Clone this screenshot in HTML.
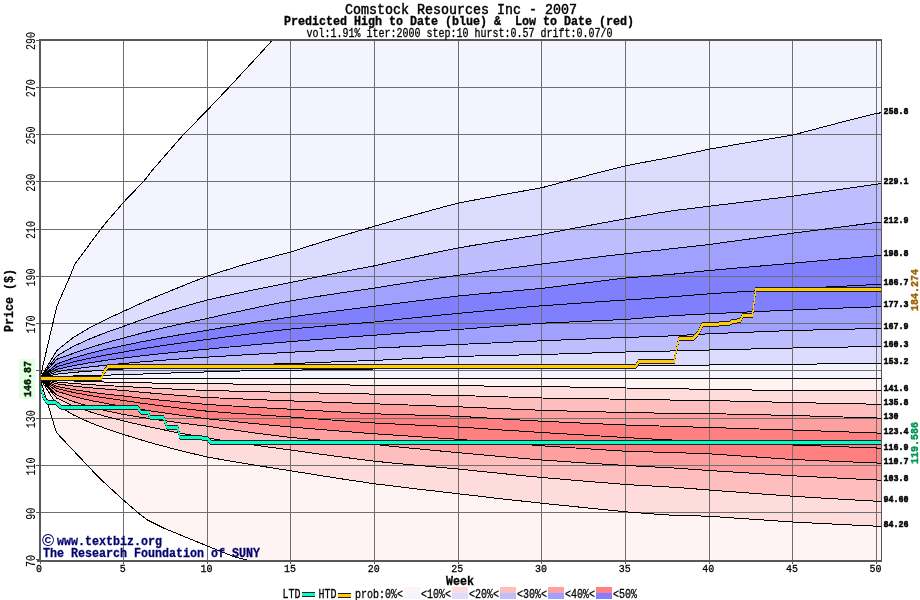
<!DOCTYPE html><html><head><meta charset="utf-8"><title>Comstock Resources Inc - 2007</title>
<style>html,body{margin:0;padding:0;background:#fff}svg{display:block}text{font-family:"Liberation Mono",monospace;white-space:pre}</style></head><body>
<svg width="920" height="600" viewBox="0 0 920 600">
<rect width="920" height="600" fill="#fff"/>
<defs><clipPath id="pc"><rect x="40" y="40" width="842" height="521"/></clipPath></defs>
<g clip-path="url(#pc)" shape-rendering="crispEdges">
<polygon points="40.0,378.3 56.7,306.7 70.0,276.2 75.0,263.8 100.8,229.2 105.0,223.8 123.8,202.0 143.8,181.2 152.5,170.0 183.8,134.2 207.5,110.0 228.8,87.5 260.0,53.8 272.5,40.0 285.0,27.0 883.5,27.0 883.5,570.0 38.0,570.0" fill="#f4f4ff"/>
<polygon points="40.0,378.3 56.7,350.7 73.5,337.3 90.2,327.5 106.9,318.9 123.7,311.3 140.4,303.6 157.1,296.3 173.8,289.5 190.6,282.7 207.3,276.2 224.0,270.8 240.8,265.5 257.5,260.8 274.2,256.3 291.0,252.0 307.7,246.5 324.4,241.3 341.1,236.1 357.9,231.1 374.6,226.2 391.3,221.4 408.1,216.7 424.8,212.1 441.5,207.5 458.2,203.1 475.0,199.9 491.7,196.8 508.4,193.7 525.2,190.7 541.9,187.7 558.6,183.2 575.4,178.7 592.1,174.3 608.8,170.0 625.6,165.8 642.3,162.6 659.0,159.5 675.7,156.3 692.5,152.7 709.2,149.2 725.9,146.3 742.7,143.4 759.4,140.6 776.1,137.8 792.9,135.0 809.6,130.6 826.3,126.2 843.0,121.8 859.8,117.6 876.5,113.3 881.5,112.8 883.5,112.8 883.5,570.0 38.0,570.0" fill="#dcdcff"/>
<polygon points="40.0,378.3 56.7,356.0 73.5,346.3 90.2,338.7 106.9,332.1 123.7,326.3 140.4,320.2 157.1,314.7 173.8,309.5 190.6,304.6 207.3,300.0 224.0,296.2 240.8,292.6 257.5,289.1 274.2,285.7 291.0,282.5 307.7,278.9 324.4,275.5 341.1,272.2 357.9,268.9 374.6,265.8 391.3,262.0 408.1,258.4 424.8,254.8 441.5,251.3 458.2,247.9 475.0,245.1 491.7,242.4 508.4,239.7 525.2,237.0 541.9,234.4 558.6,231.2 575.4,228.0 592.1,224.9 608.8,221.8 625.6,218.8 642.3,215.8 659.0,212.9 675.7,210.3 692.5,208.3 709.2,206.2 725.9,204.2 742.7,202.2 759.4,200.2 776.1,198.2 792.9,196.2 809.6,193.8 826.3,191.4 843.0,189.0 859.8,186.6 876.5,184.2 881.5,183.7 883.5,183.7 883.5,570.0 38.0,570.0" fill="#bebeff"/>
<polygon points="40.0,378.3 56.7,359.3 73.5,353.3 90.2,347.5 106.9,342.5 123.7,338.0 140.4,333.5 157.1,329.4 173.8,325.5 190.6,321.9 207.3,318.5 224.0,314.6 240.8,311.0 257.5,307.4 274.2,304.0 291.0,300.8 307.7,298.0 324.4,295.4 341.1,292.9 357.9,290.4 374.6,288.0 391.3,285.3 408.1,282.7 424.8,280.2 441.5,277.7 458.2,275.3 475.0,273.0 491.7,270.7 508.4,268.4 525.2,266.2 541.9,264.0 558.6,261.9 575.4,259.8 592.1,257.8 608.8,255.7 625.6,253.8 642.3,251.9 659.0,250.2 675.7,248.3 692.5,246.4 709.2,244.5 725.9,242.2 742.7,239.9 759.4,237.7 776.1,235.4 792.9,233.2 809.6,231.1 826.3,228.9 843.0,226.7 859.8,224.6 876.5,222.5 881.5,222.1 883.5,222.1 883.5,570.0 38.0,570.0" fill="#a0a0ff"/>
<polygon points="40.0,378.3 56.7,364.0 73.5,357.9 90.2,353.2 106.9,349.1 123.7,345.5 140.4,342.0 157.1,338.8 173.8,335.8 190.6,333.0 207.3,330.3 224.0,327.4 240.8,324.7 257.5,322.0 274.2,319.5 291.0,317.0 307.7,314.7 324.4,312.5 341.1,310.4 357.9,308.3 374.6,306.2 391.3,304.1 408.1,302.0 424.8,300.0 441.5,298.0 458.2,296.0 475.0,294.4 491.7,292.9 508.4,291.4 525.2,289.9 541.9,288.4 558.6,286.3 575.4,284.1 592.1,282.1 608.8,280.0 625.6,278.0 642.3,276.7 659.0,275.4 675.7,273.9 692.5,272.2 709.2,270.5 725.9,269.0 742.7,267.5 759.4,266.1 776.1,264.7 792.9,263.2 809.6,261.7 826.3,260.2 843.0,258.7 859.8,257.2 876.5,255.8 881.5,255.4 883.5,255.4 883.5,570.0 38.0,570.0" fill="#8080ff"/>
<polygon points="40.0,378.3 56.7,366.8 73.5,361.9 90.2,358.1 106.9,354.9 123.7,352.0 140.4,349.1 157.1,346.5 173.8,344.0 190.6,341.7 207.3,339.5 224.0,337.2 240.8,335.0 257.5,333.0 274.2,330.9 291.0,329.0 307.7,327.5 324.4,326.1 341.1,324.7 357.9,323.3 374.6,322.0 391.3,320.2 408.1,318.4 424.8,316.7 441.5,315.0 458.2,313.4 475.0,311.8 491.7,310.3 508.4,308.7 525.2,307.2 541.9,305.8 558.6,304.6 575.4,303.4 592.1,302.2 608.8,301.1 625.6,300.0 642.3,298.9 659.0,297.7 675.7,296.5 692.5,295.1 709.2,293.8 725.9,292.7 742.7,291.7 759.4,290.7 776.1,289.7 792.9,288.8 809.6,287.9 826.3,287.0 843.0,286.2 859.8,285.3 876.5,284.5 881.5,284.1 883.5,284.1 883.5,570.0 38.0,570.0" fill="#8080ff"/>
<polygon points="40.0,378.3 56.7,369.4 73.5,365.6 90.2,362.7 106.9,360.2 123.7,358.0 140.4,356.0 157.1,354.1 173.8,352.4 190.6,350.7 207.3,349.2 224.0,347.5 240.8,346.0 257.5,344.4 274.2,343.0 291.0,341.6 307.7,340.2 324.4,338.9 341.1,337.6 357.9,336.4 374.6,335.2 391.3,334.0 408.1,332.8 424.8,331.7 441.5,330.6 458.2,329.5 475.0,328.2 491.7,326.9 508.4,325.7 525.2,324.5 541.9,323.2 558.6,322.5 575.4,321.7 592.1,321.0 608.8,320.2 625.6,319.5 642.3,318.1 659.0,316.7 675.7,315.5 692.5,314.6 709.2,313.8 725.9,313.0 742.7,312.2 759.4,311.5 776.1,310.7 792.9,310.0 809.6,309.3 826.3,308.7 843.0,308.0 859.8,307.4 876.5,306.8 881.5,306.4 883.5,306.4 883.5,570.0 38.0,570.0" fill="#a0a0ff"/>
<polygon points="40.0,378.3 56.7,371.8 73.5,369.0 90.2,366.9 106.9,365.1 123.7,363.5 140.4,362.0 157.1,360.7 173.8,359.4 190.6,358.2 207.3,357.1 224.0,356.1 240.8,355.1 257.5,354.1 274.2,353.2 291.0,352.2 307.7,351.4 324.4,350.5 341.1,349.7 357.9,348.9 374.6,348.1 391.3,347.4 408.1,346.6 424.8,345.9 441.5,345.2 458.2,344.5 475.0,343.7 491.7,343.0 508.4,342.2 525.2,341.5 541.9,340.8 558.6,340.1 575.4,339.4 592.1,338.8 608.8,338.1 625.6,337.5 642.3,336.9 659.0,336.4 675.7,335.7 692.5,334.7 709.2,333.8 725.9,333.1 742.7,332.4 759.4,331.8 776.1,331.1 792.9,330.5 809.6,330.1 826.3,329.7 843.0,329.3 859.8,328.9 876.5,328.5 881.5,328.4 883.5,328.4 883.5,570.0 38.0,570.0" fill="#bebeff"/>
<polygon points="40.0,378.3 56.7,374.2 73.5,372.4 90.2,371.1 106.9,370.0 123.7,369.0 140.4,368.3 157.1,367.7 173.8,367.1 190.6,366.5 207.3,366.0 224.0,365.5 240.8,365.0 257.5,364.5 274.2,364.0 291.0,363.6 307.7,362.9 324.4,362.3 341.1,361.6 357.9,361.0 374.6,360.4 391.3,359.6 408.1,358.7 424.8,357.9 441.5,357.2 458.2,356.4 475.0,356.0 491.7,355.6 508.4,355.2 525.2,354.9 541.9,354.5 558.6,354.0 575.4,353.5 592.1,353.0 608.8,352.5 625.6,352.0 642.3,351.6 659.0,351.2 675.7,350.9 692.5,350.4 709.2,350.0 725.9,349.6 742.7,349.2 759.4,348.8 776.1,348.4 792.9,348.0 809.6,347.7 826.3,347.4 843.0,347.1 859.8,346.8 876.5,346.5 881.5,346.5 883.5,346.5 883.5,570.0 38.0,570.0" fill="#dcdcff"/>
<polygon points="40.0,378.3 56.7,376.7 73.5,376.0 90.2,375.5 106.9,375.1 123.7,374.7 140.4,374.1 157.1,373.5 173.8,372.9 190.6,372.4 207.3,371.9 224.0,371.4 240.8,371.0 257.5,370.7 274.2,370.4 291.0,370.2 307.7,369.9 324.4,369.7 341.1,369.5 357.9,369.2 374.6,369.0 391.3,368.7 408.1,368.5 424.8,368.3 441.5,368.0 458.2,367.8 475.0,367.6 491.7,367.3 508.4,367.1 525.2,366.9 541.9,366.6 558.6,366.4 575.4,366.2 592.1,366.0 608.8,365.8 625.6,365.5 642.3,365.3 659.0,365.1 675.7,365.0 692.5,365.0 709.2,365.0 725.9,364.8 742.7,364.7 759.4,364.5 776.1,364.4 792.9,364.2 809.6,364.1 826.3,363.9 843.0,363.7 859.8,363.6 876.5,363.4 881.5,363.4 883.5,363.4 883.5,570.0 38.0,570.0" fill="#f4f4ff"/>
<polygon points="40.0,378.3 881.5,378.3 883.5,378.3 883.5,570.0 38.0,570.0" fill="#fff4f4"/>
<polygon points="40.0,378.3 56.7,380.2 73.5,381.0 90.2,381.6 106.9,382.1 123.7,382.5 140.4,382.8 157.1,383.1 173.8,383.3 190.6,383.5 207.3,383.8 224.0,383.9 240.8,384.1 257.5,384.2 274.2,384.4 291.0,384.5 307.7,384.7 324.4,384.8 341.1,384.9 357.9,385.1 374.6,385.2 391.3,385.3 408.1,385.4 424.8,385.5 441.5,385.6 458.2,385.8 475.0,385.9 491.7,386.1 508.4,386.2 525.2,386.4 541.9,386.5 558.6,386.8 575.4,387.1 592.1,387.4 608.8,387.7 625.6,388.0 642.3,388.2 659.0,388.4 675.7,388.6 692.5,389.1 709.2,389.5 725.9,389.7 742.7,389.9 759.4,390.1 776.1,390.3 792.9,390.5 809.6,390.5 826.3,390.5 843.0,390.6 859.8,390.6 876.5,390.6 881.5,390.8 883.5,390.8 883.5,570.0 38.0,570.0" fill="#ffdcdc"/>
<polygon points="40.0,378.3 56.7,382.0 73.5,383.5 90.2,384.7 106.9,385.6 123.7,386.5 140.4,387.4 157.1,388.3 173.8,389.1 190.6,389.8 207.3,390.5 224.0,390.9 240.8,391.3 257.5,391.7 274.2,392.1 291.0,392.4 307.7,392.8 324.4,393.1 341.1,393.4 357.9,393.8 374.6,394.1 391.3,394.4 408.1,394.7 424.8,394.9 441.5,395.2 458.2,395.5 475.0,396.0 491.7,396.5 508.4,397.0 525.2,397.5 541.9,398.0 558.6,398.3 575.4,398.5 592.1,398.8 608.8,399.0 625.6,399.2 642.3,399.5 659.0,399.8 675.7,400.1 692.5,400.3 709.2,400.5 725.9,400.9 742.7,401.3 759.4,401.7 776.1,402.1 792.9,402.5 809.6,402.9 826.3,403.2 843.0,403.6 859.8,403.9 876.5,404.2 881.5,404.5 883.5,404.5 883.5,570.0 38.0,570.0" fill="#ffbebe"/>
<polygon points="40.0,378.3 56.7,383.8 73.5,386.1 90.2,387.8 106.9,389.2 123.7,390.5 140.4,392.1 157.1,393.6 173.8,395.0 190.6,396.3 207.3,397.5 224.0,398.2 240.8,398.9 257.5,399.6 274.2,400.3 291.0,400.9 307.7,401.5 324.4,402.1 341.1,402.7 357.9,403.2 374.6,403.8 391.3,404.4 408.1,405.0 424.8,405.6 441.5,406.2 458.2,406.8 475.0,407.5 491.7,408.2 508.4,408.9 525.2,409.6 541.9,410.3 558.6,410.8 575.4,411.2 592.1,411.6 608.8,412.1 625.6,412.5 642.3,412.8 659.0,413.1 675.7,413.3 692.5,413.5 709.2,413.6 725.9,414.0 742.7,414.4 759.4,414.8 776.1,415.1 792.9,415.5 809.6,416.0 826.3,416.5 843.0,417.0 859.8,417.5 876.5,418.0 881.5,418.2 883.5,418.2 883.5,570.0 38.0,570.0" fill="#ffa0a0"/>
<polygon points="40.0,378.3 56.7,386.3 73.5,389.6 90.2,392.1 106.9,394.2 123.7,396.0 140.4,398.0 157.1,399.8 173.8,401.4 190.6,403.0 207.3,404.5 224.0,405.5 240.8,406.5 257.5,407.5 274.2,408.4 291.0,409.2 307.7,410.2 324.4,411.1 341.1,412.0 357.9,412.9 374.6,413.8 391.3,414.3 408.1,414.8 424.8,415.3 441.5,415.8 458.2,416.2 475.0,417.3 491.7,418.3 508.4,419.3 525.2,420.3 541.9,421.2 558.6,422.0 575.4,422.8 592.1,423.5 608.8,424.3 625.6,425.0 642.3,425.5 659.0,426.0 675.7,426.5 692.5,427.0 709.2,427.5 725.9,428.0 742.7,428.5 759.4,429.0 776.1,429.5 792.9,430.0 809.6,430.6 826.3,431.2 843.0,431.8 859.8,432.4 876.5,433.0 881.5,433.7 883.5,433.7 883.5,570.0 38.0,570.0" fill="#ff8080"/>
<polygon points="40.0,378.3 56.7,388.4 73.5,392.5 90.2,395.6 106.9,398.2 123.7,400.5 140.4,403.0 157.1,405.3 173.8,407.4 190.6,409.4 207.3,411.2 224.0,412.5 240.8,413.7 257.5,414.8 274.2,415.9 291.0,417.0 307.7,418.3 324.4,419.5 341.1,420.7 357.9,421.9 374.6,423.0 391.3,423.8 408.1,424.7 424.8,425.5 441.5,426.2 458.2,427.0 475.0,428.1 491.7,429.3 508.4,430.4 525.2,431.4 541.9,432.5 558.6,433.5 575.4,434.5 592.1,435.5 608.8,436.5 625.6,437.5 642.3,438.5 659.0,439.4 675.7,440.2 692.5,440.9 709.2,441.5 725.9,442.2 742.7,442.9 759.4,443.6 776.1,444.3 792.9,445.0 809.6,445.6 826.3,446.2 843.0,446.8 859.8,447.4 876.5,448.0 881.5,449.0 883.5,449.0 883.5,570.0 38.0,570.0" fill="#ff8080"/>
<polygon points="40.0,378.3 56.7,391.2 73.5,396.4 90.2,400.4 106.9,403.6 123.7,406.5 140.4,409.3 157.1,411.9 173.8,414.3 190.6,416.6 207.3,418.8 224.0,420.5 240.8,422.3 257.5,423.9 274.2,425.5 291.0,427.0 307.7,428.4 324.4,429.8 341.1,431.2 357.9,432.5 374.6,433.8 391.3,434.9 408.1,436.0 424.8,437.2 441.5,438.2 458.2,439.3 475.0,440.6 491.7,442.0 508.4,443.2 525.2,444.5 541.9,445.8 558.6,446.9 575.4,448.0 592.1,449.1 608.8,450.2 625.6,451.2 642.3,451.7 659.0,452.2 675.7,452.7 692.5,453.2 709.2,453.8 725.9,454.9 742.7,456.1 759.4,457.2 776.1,458.4 792.9,459.5 809.6,460.2 826.3,460.9 843.0,461.6 859.8,462.3 876.5,463.0 881.5,463.7 883.5,463.7 883.5,570.0 38.0,570.0" fill="#ffa0a0"/>
<polygon points="40.0,378.3 56.7,395.0 73.5,401.7 90.2,406.7 106.9,410.9 123.7,414.5 140.4,417.2 157.1,419.7 173.8,422.0 190.6,424.2 207.3,426.2 224.0,428.7 240.8,431.0 257.5,433.3 274.2,435.4 291.0,437.5 307.7,439.0 324.4,440.4 341.1,441.8 357.9,443.2 374.6,444.5 391.3,446.2 408.1,447.9 424.8,449.5 441.5,451.1 458.2,452.7 475.0,454.2 491.7,455.7 508.4,457.2 525.2,458.6 541.9,460.0 558.6,461.1 575.4,462.3 592.1,463.4 608.8,464.4 625.6,465.5 642.3,466.3 659.0,467.2 675.7,468.1 692.5,469.3 709.2,470.5 725.9,471.6 742.7,472.6 759.4,473.7 776.1,474.7 792.9,475.8 809.6,476.6 826.3,477.5 843.0,478.3 859.8,479.2 876.5,480.0 881.5,480.3 883.5,480.3 883.5,570.0 38.0,570.0" fill="#ffbebe"/>
<polygon points="40.0,378.3 56.7,398.1 73.5,406.0 90.2,411.9 106.9,416.8 123.7,421.0 140.4,424.9 157.1,428.5 173.8,431.9 190.6,435.0 207.3,438.0 224.0,440.6 240.8,443.1 257.5,445.5 274.2,447.8 291.0,450.0 307.7,452.4 324.4,454.7 341.1,456.9 357.9,459.1 374.6,461.2 391.3,462.9 408.1,464.5 424.8,466.0 441.5,467.5 458.2,469.0 475.0,470.8 491.7,472.5 508.4,474.2 525.2,475.9 541.9,477.5 558.6,478.9 575.4,480.4 592.1,481.8 608.8,483.1 625.6,484.5 642.3,485.5 659.0,486.4 675.7,487.4 692.5,488.7 709.2,490.0 725.9,491.3 742.7,492.5 759.4,493.8 776.1,495.0 792.9,496.2 809.6,497.3 826.3,498.3 843.0,499.3 859.8,500.3 876.5,501.2 881.5,501.8 883.5,501.8 883.5,570.0 38.0,570.0" fill="#ffdcdc"/>
<polygon points="40.0,378.3 56.7,404.7 73.5,415.0 90.2,422.7 106.9,429.0 123.7,434.5 140.4,439.7 157.1,444.5 173.8,448.9 190.6,453.1 207.3,457.0 224.0,460.0 240.8,462.8 257.5,465.6 274.2,468.2 291.0,470.8 307.7,473.5 324.4,476.2 341.1,478.8 357.9,481.3 374.6,483.8 391.3,485.8 408.1,487.9 424.8,489.9 441.5,491.8 458.2,493.8 475.0,495.7 491.7,497.7 508.4,499.6 525.2,501.4 541.9,503.2 558.6,505.0 575.4,506.7 592.1,508.4 608.8,510.1 625.6,511.8 642.3,513.1 659.0,514.4 675.7,515.4 692.5,515.8 709.2,516.2 725.9,517.4 742.7,518.6 759.4,519.7 776.1,520.9 792.9,522.0 809.6,522.9 826.3,523.7 843.0,524.6 859.8,525.4 876.5,526.2 881.5,526.6 883.5,526.6 883.5,570.0 38.0,570.0" fill="#fff4f4"/>
<polygon points="40.0,378.3 56.4,432.5 98.8,477.5 123.8,500.5 139.0,513.5 147.5,520.0 163.5,528.0 208.5,546.5 233.5,556.5 248.5,560.5 270.0,566.0 883.5,566.0 883.5,570.0 38.0,570.0" fill="#ffffff"/>
</g>
<g stroke="#6e6e6e" stroke-width="1" shape-rendering="crispEdges"><line x1="123.5" y1="40" x2="123.5" y2="560"/><line x1="207.5" y1="40" x2="207.5" y2="560"/><line x1="290.5" y1="40" x2="290.5" y2="560"/><line x1="374.5" y1="40" x2="374.5" y2="560"/><line x1="458.5" y1="40" x2="458.5" y2="560"/><line x1="541.5" y1="40" x2="541.5" y2="560"/><line x1="625.5" y1="40" x2="625.5" y2="560"/><line x1="709.5" y1="40" x2="709.5" y2="560"/><line x1="792.5" y1="40" x2="792.5" y2="560"/><line x1="876.5" y1="40" x2="876.5" y2="560"/><line x1="40" y1="512.5" x2="882" y2="512.5"/><line x1="40" y1="465.5" x2="882" y2="465.5"/><line x1="40" y1="418.5" x2="882" y2="418.5"/><line x1="40" y1="370.5" x2="882" y2="370.5"/><line x1="40" y1="323.5" x2="882" y2="323.5"/><line x1="40" y1="276.5" x2="882" y2="276.5"/><line x1="40" y1="229.5" x2="882" y2="229.5"/><line x1="40" y1="181.5" x2="882" y2="181.5"/><line x1="40" y1="134.5" x2="882" y2="134.5"/><line x1="40" y1="87.5" x2="882" y2="87.5"/></g>
<g clip-path="url(#pc)" fill="none" stroke="#000" stroke-width="1" shape-rendering="crispEdges">
<polyline points="40.0,378.3 56.7,306.7 70.0,276.2 75.0,263.8 100.8,229.2 105.0,223.8 123.8,202.0 143.8,181.2 152.5,170.0 183.8,134.2 207.5,110.0 228.8,87.5 260.0,53.8 272.5,40.0 285.0,27.0"/>
<polyline points="40.0,378.3 56.7,350.7 73.5,337.3 90.2,327.5 106.9,318.9 123.7,311.3 140.4,303.6 157.1,296.3 173.8,289.5 190.6,282.7 207.3,276.2 224.0,270.8 240.8,265.5 257.5,260.8 274.2,256.3 291.0,252.0 307.7,246.5 324.4,241.3 341.1,236.1 357.9,231.1 374.6,226.2 391.3,221.4 408.1,216.7 424.8,212.1 441.5,207.5 458.2,203.1 475.0,199.9 491.7,196.8 508.4,193.7 525.2,190.7 541.9,187.7 558.6,183.2 575.4,178.7 592.1,174.3 608.8,170.0 625.6,165.8 642.3,162.6 659.0,159.5 675.7,156.3 692.5,152.7 709.2,149.2 725.9,146.3 742.7,143.4 759.4,140.6 776.1,137.8 792.9,135.0 809.6,130.6 826.3,126.2 843.0,121.8 859.8,117.6 876.5,113.3 881.5,112.8"/>
<polyline points="40.0,378.3 56.7,356.0 73.5,346.3 90.2,338.7 106.9,332.1 123.7,326.3 140.4,320.2 157.1,314.7 173.8,309.5 190.6,304.6 207.3,300.0 224.0,296.2 240.8,292.6 257.5,289.1 274.2,285.7 291.0,282.5 307.7,278.9 324.4,275.5 341.1,272.2 357.9,268.9 374.6,265.8 391.3,262.0 408.1,258.4 424.8,254.8 441.5,251.3 458.2,247.9 475.0,245.1 491.7,242.4 508.4,239.7 525.2,237.0 541.9,234.4 558.6,231.2 575.4,228.0 592.1,224.9 608.8,221.8 625.6,218.8 642.3,215.8 659.0,212.9 675.7,210.3 692.5,208.3 709.2,206.2 725.9,204.2 742.7,202.2 759.4,200.2 776.1,198.2 792.9,196.2 809.6,193.8 826.3,191.4 843.0,189.0 859.8,186.6 876.5,184.2 881.5,183.7"/>
<polyline points="40.0,378.3 56.7,359.3 73.5,353.3 90.2,347.5 106.9,342.5 123.7,338.0 140.4,333.5 157.1,329.4 173.8,325.5 190.6,321.9 207.3,318.5 224.0,314.6 240.8,311.0 257.5,307.4 274.2,304.0 291.0,300.8 307.7,298.0 324.4,295.4 341.1,292.9 357.9,290.4 374.6,288.0 391.3,285.3 408.1,282.7 424.8,280.2 441.5,277.7 458.2,275.3 475.0,273.0 491.7,270.7 508.4,268.4 525.2,266.2 541.9,264.0 558.6,261.9 575.4,259.8 592.1,257.8 608.8,255.7 625.6,253.8 642.3,251.9 659.0,250.2 675.7,248.3 692.5,246.4 709.2,244.5 725.9,242.2 742.7,239.9 759.4,237.7 776.1,235.4 792.9,233.2 809.6,231.1 826.3,228.9 843.0,226.7 859.8,224.6 876.5,222.5 881.5,222.1"/>
<polyline points="40.0,378.3 56.7,364.0 73.5,357.9 90.2,353.2 106.9,349.1 123.7,345.5 140.4,342.0 157.1,338.8 173.8,335.8 190.6,333.0 207.3,330.3 224.0,327.4 240.8,324.7 257.5,322.0 274.2,319.5 291.0,317.0 307.7,314.7 324.4,312.5 341.1,310.4 357.9,308.3 374.6,306.2 391.3,304.1 408.1,302.0 424.8,300.0 441.5,298.0 458.2,296.0 475.0,294.4 491.7,292.9 508.4,291.4 525.2,289.9 541.9,288.4 558.6,286.3 575.4,284.1 592.1,282.1 608.8,280.0 625.6,278.0 642.3,276.7 659.0,275.4 675.7,273.9 692.5,272.2 709.2,270.5 725.9,269.0 742.7,267.5 759.4,266.1 776.1,264.7 792.9,263.2 809.6,261.7 826.3,260.2 843.0,258.7 859.8,257.2 876.5,255.8 881.5,255.4"/>
<polyline points="40.0,378.3 56.7,366.8 73.5,361.9 90.2,358.1 106.9,354.9 123.7,352.0 140.4,349.1 157.1,346.5 173.8,344.0 190.6,341.7 207.3,339.5 224.0,337.2 240.8,335.0 257.5,333.0 274.2,330.9 291.0,329.0 307.7,327.5 324.4,326.1 341.1,324.7 357.9,323.3 374.6,322.0 391.3,320.2 408.1,318.4 424.8,316.7 441.5,315.0 458.2,313.4 475.0,311.8 491.7,310.3 508.4,308.7 525.2,307.2 541.9,305.8 558.6,304.6 575.4,303.4 592.1,302.2 608.8,301.1 625.6,300.0 642.3,298.9 659.0,297.7 675.7,296.5 692.5,295.1 709.2,293.8 725.9,292.7 742.7,291.7 759.4,290.7 776.1,289.7 792.9,288.8 809.6,287.9 826.3,287.0 843.0,286.2 859.8,285.3 876.5,284.5 881.5,284.1"/>
<polyline points="40.0,378.3 56.7,369.4 73.5,365.6 90.2,362.7 106.9,360.2 123.7,358.0 140.4,356.0 157.1,354.1 173.8,352.4 190.6,350.7 207.3,349.2 224.0,347.5 240.8,346.0 257.5,344.4 274.2,343.0 291.0,341.6 307.7,340.2 324.4,338.9 341.1,337.6 357.9,336.4 374.6,335.2 391.3,334.0 408.1,332.8 424.8,331.7 441.5,330.6 458.2,329.5 475.0,328.2 491.7,326.9 508.4,325.7 525.2,324.5 541.9,323.2 558.6,322.5 575.4,321.7 592.1,321.0 608.8,320.2 625.6,319.5 642.3,318.1 659.0,316.7 675.7,315.5 692.5,314.6 709.2,313.8 725.9,313.0 742.7,312.2 759.4,311.5 776.1,310.7 792.9,310.0 809.6,309.3 826.3,308.7 843.0,308.0 859.8,307.4 876.5,306.8 881.5,306.4"/>
<polyline points="40.0,378.3 56.7,371.8 73.5,369.0 90.2,366.9 106.9,365.1 123.7,363.5 140.4,362.0 157.1,360.7 173.8,359.4 190.6,358.2 207.3,357.1 224.0,356.1 240.8,355.1 257.5,354.1 274.2,353.2 291.0,352.2 307.7,351.4 324.4,350.5 341.1,349.7 357.9,348.9 374.6,348.1 391.3,347.4 408.1,346.6 424.8,345.9 441.5,345.2 458.2,344.5 475.0,343.7 491.7,343.0 508.4,342.2 525.2,341.5 541.9,340.8 558.6,340.1 575.4,339.4 592.1,338.8 608.8,338.1 625.6,337.5 642.3,336.9 659.0,336.4 675.7,335.7 692.5,334.7 709.2,333.8 725.9,333.1 742.7,332.4 759.4,331.8 776.1,331.1 792.9,330.5 809.6,330.1 826.3,329.7 843.0,329.3 859.8,328.9 876.5,328.5 881.5,328.4"/>
<polyline points="40.0,378.3 56.7,374.2 73.5,372.4 90.2,371.1 106.9,370.0 123.7,369.0 140.4,368.3 157.1,367.7 173.8,367.1 190.6,366.5 207.3,366.0 224.0,365.5 240.8,365.0 257.5,364.5 274.2,364.0 291.0,363.6 307.7,362.9 324.4,362.3 341.1,361.6 357.9,361.0 374.6,360.4 391.3,359.6 408.1,358.7 424.8,357.9 441.5,357.2 458.2,356.4 475.0,356.0 491.7,355.6 508.4,355.2 525.2,354.9 541.9,354.5 558.6,354.0 575.4,353.5 592.1,353.0 608.8,352.5 625.6,352.0 642.3,351.6 659.0,351.2 675.7,350.9 692.5,350.4 709.2,350.0 725.9,349.6 742.7,349.2 759.4,348.8 776.1,348.4 792.9,348.0 809.6,347.7 826.3,347.4 843.0,347.1 859.8,346.8 876.5,346.5 881.5,346.5"/>
<polyline points="40.0,378.3 56.7,376.7 73.5,376.0 90.2,375.5 106.9,375.1 123.7,374.7 140.4,374.1 157.1,373.5 173.8,372.9 190.6,372.4 207.3,371.9 224.0,371.4 240.8,371.0 257.5,370.7 274.2,370.4 291.0,370.2 307.7,369.9 324.4,369.7 341.1,369.5 357.9,369.2 374.6,369.0 391.3,368.7 408.1,368.5 424.8,368.3 441.5,368.0 458.2,367.8 475.0,367.6 491.7,367.3 508.4,367.1 525.2,366.9 541.9,366.6 558.6,366.4 575.4,366.2 592.1,366.0 608.8,365.8 625.6,365.5 642.3,365.3 659.0,365.1 675.7,365.0 692.5,365.0 709.2,365.0 725.9,364.8 742.7,364.7 759.4,364.5 776.1,364.4 792.9,364.2 809.6,364.1 826.3,363.9 843.0,363.7 859.8,363.6 876.5,363.4 881.5,363.4"/>
<polyline points="40.0,378.3 881.5,378.3"/>
<polyline points="40.0,378.3 56.7,380.2 73.5,381.0 90.2,381.6 106.9,382.1 123.7,382.5 140.4,382.8 157.1,383.1 173.8,383.3 190.6,383.5 207.3,383.8 224.0,383.9 240.8,384.1 257.5,384.2 274.2,384.4 291.0,384.5 307.7,384.7 324.4,384.8 341.1,384.9 357.9,385.1 374.6,385.2 391.3,385.3 408.1,385.4 424.8,385.5 441.5,385.6 458.2,385.8 475.0,385.9 491.7,386.1 508.4,386.2 525.2,386.4 541.9,386.5 558.6,386.8 575.4,387.1 592.1,387.4 608.8,387.7 625.6,388.0 642.3,388.2 659.0,388.4 675.7,388.6 692.5,389.1 709.2,389.5 725.9,389.7 742.7,389.9 759.4,390.1 776.1,390.3 792.9,390.5 809.6,390.5 826.3,390.5 843.0,390.6 859.8,390.6 876.5,390.6 881.5,390.8"/>
<polyline points="40.0,378.3 56.7,382.0 73.5,383.5 90.2,384.7 106.9,385.6 123.7,386.5 140.4,387.4 157.1,388.3 173.8,389.1 190.6,389.8 207.3,390.5 224.0,390.9 240.8,391.3 257.5,391.7 274.2,392.1 291.0,392.4 307.7,392.8 324.4,393.1 341.1,393.4 357.9,393.8 374.6,394.1 391.3,394.4 408.1,394.7 424.8,394.9 441.5,395.2 458.2,395.5 475.0,396.0 491.7,396.5 508.4,397.0 525.2,397.5 541.9,398.0 558.6,398.3 575.4,398.5 592.1,398.8 608.8,399.0 625.6,399.2 642.3,399.5 659.0,399.8 675.7,400.1 692.5,400.3 709.2,400.5 725.9,400.9 742.7,401.3 759.4,401.7 776.1,402.1 792.9,402.5 809.6,402.9 826.3,403.2 843.0,403.6 859.8,403.9 876.5,404.2 881.5,404.5"/>
<polyline points="40.0,378.3 56.7,383.8 73.5,386.1 90.2,387.8 106.9,389.2 123.7,390.5 140.4,392.1 157.1,393.6 173.8,395.0 190.6,396.3 207.3,397.5 224.0,398.2 240.8,398.9 257.5,399.6 274.2,400.3 291.0,400.9 307.7,401.5 324.4,402.1 341.1,402.7 357.9,403.2 374.6,403.8 391.3,404.4 408.1,405.0 424.8,405.6 441.5,406.2 458.2,406.8 475.0,407.5 491.7,408.2 508.4,408.9 525.2,409.6 541.9,410.3 558.6,410.8 575.4,411.2 592.1,411.6 608.8,412.1 625.6,412.5 642.3,412.8 659.0,413.1 675.7,413.3 692.5,413.5 709.2,413.6 725.9,414.0 742.7,414.4 759.4,414.8 776.1,415.1 792.9,415.5 809.6,416.0 826.3,416.5 843.0,417.0 859.8,417.5 876.5,418.0 881.5,418.2"/>
<polyline points="40.0,378.3 56.7,386.3 73.5,389.6 90.2,392.1 106.9,394.2 123.7,396.0 140.4,398.0 157.1,399.8 173.8,401.4 190.6,403.0 207.3,404.5 224.0,405.5 240.8,406.5 257.5,407.5 274.2,408.4 291.0,409.2 307.7,410.2 324.4,411.1 341.1,412.0 357.9,412.9 374.6,413.8 391.3,414.3 408.1,414.8 424.8,415.3 441.5,415.8 458.2,416.2 475.0,417.3 491.7,418.3 508.4,419.3 525.2,420.3 541.9,421.2 558.6,422.0 575.4,422.8 592.1,423.5 608.8,424.3 625.6,425.0 642.3,425.5 659.0,426.0 675.7,426.5 692.5,427.0 709.2,427.5 725.9,428.0 742.7,428.5 759.4,429.0 776.1,429.5 792.9,430.0 809.6,430.6 826.3,431.2 843.0,431.8 859.8,432.4 876.5,433.0 881.5,433.7"/>
<polyline points="40.0,378.3 56.7,388.4 73.5,392.5 90.2,395.6 106.9,398.2 123.7,400.5 140.4,403.0 157.1,405.3 173.8,407.4 190.6,409.4 207.3,411.2 224.0,412.5 240.8,413.7 257.5,414.8 274.2,415.9 291.0,417.0 307.7,418.3 324.4,419.5 341.1,420.7 357.9,421.9 374.6,423.0 391.3,423.8 408.1,424.7 424.8,425.5 441.5,426.2 458.2,427.0 475.0,428.1 491.7,429.3 508.4,430.4 525.2,431.4 541.9,432.5 558.6,433.5 575.4,434.5 592.1,435.5 608.8,436.5 625.6,437.5 642.3,438.5 659.0,439.4 675.7,440.2 692.5,440.9 709.2,441.5 725.9,442.2 742.7,442.9 759.4,443.6 776.1,444.3 792.9,445.0 809.6,445.6 826.3,446.2 843.0,446.8 859.8,447.4 876.5,448.0 881.5,449.0"/>
<polyline points="40.0,378.3 56.7,391.2 73.5,396.4 90.2,400.4 106.9,403.6 123.7,406.5 140.4,409.3 157.1,411.9 173.8,414.3 190.6,416.6 207.3,418.8 224.0,420.5 240.8,422.3 257.5,423.9 274.2,425.5 291.0,427.0 307.7,428.4 324.4,429.8 341.1,431.2 357.9,432.5 374.6,433.8 391.3,434.9 408.1,436.0 424.8,437.2 441.5,438.2 458.2,439.3 475.0,440.6 491.7,442.0 508.4,443.2 525.2,444.5 541.9,445.8 558.6,446.9 575.4,448.0 592.1,449.1 608.8,450.2 625.6,451.2 642.3,451.7 659.0,452.2 675.7,452.7 692.5,453.2 709.2,453.8 725.9,454.9 742.7,456.1 759.4,457.2 776.1,458.4 792.9,459.5 809.6,460.2 826.3,460.9 843.0,461.6 859.8,462.3 876.5,463.0 881.5,463.7"/>
<polyline points="40.0,378.3 56.7,395.0 73.5,401.7 90.2,406.7 106.9,410.9 123.7,414.5 140.4,417.2 157.1,419.7 173.8,422.0 190.6,424.2 207.3,426.2 224.0,428.7 240.8,431.0 257.5,433.3 274.2,435.4 291.0,437.5 307.7,439.0 324.4,440.4 341.1,441.8 357.9,443.2 374.6,444.5 391.3,446.2 408.1,447.9 424.8,449.5 441.5,451.1 458.2,452.7 475.0,454.2 491.7,455.7 508.4,457.2 525.2,458.6 541.9,460.0 558.6,461.1 575.4,462.3 592.1,463.4 608.8,464.4 625.6,465.5 642.3,466.3 659.0,467.2 675.7,468.1 692.5,469.3 709.2,470.5 725.9,471.6 742.7,472.6 759.4,473.7 776.1,474.7 792.9,475.8 809.6,476.6 826.3,477.5 843.0,478.3 859.8,479.2 876.5,480.0 881.5,480.3"/>
<polyline points="40.0,378.3 56.7,398.1 73.5,406.0 90.2,411.9 106.9,416.8 123.7,421.0 140.4,424.9 157.1,428.5 173.8,431.9 190.6,435.0 207.3,438.0 224.0,440.6 240.8,443.1 257.5,445.5 274.2,447.8 291.0,450.0 307.7,452.4 324.4,454.7 341.1,456.9 357.9,459.1 374.6,461.2 391.3,462.9 408.1,464.5 424.8,466.0 441.5,467.5 458.2,469.0 475.0,470.8 491.7,472.5 508.4,474.2 525.2,475.9 541.9,477.5 558.6,478.9 575.4,480.4 592.1,481.8 608.8,483.1 625.6,484.5 642.3,485.5 659.0,486.4 675.7,487.4 692.5,488.7 709.2,490.0 725.9,491.3 742.7,492.5 759.4,493.8 776.1,495.0 792.9,496.2 809.6,497.3 826.3,498.3 843.0,499.3 859.8,500.3 876.5,501.2 881.5,501.8"/>
<polyline points="40.0,378.3 56.7,404.7 73.5,415.0 90.2,422.7 106.9,429.0 123.7,434.5 140.4,439.7 157.1,444.5 173.8,448.9 190.6,453.1 207.3,457.0 224.0,460.0 240.8,462.8 257.5,465.6 274.2,468.2 291.0,470.8 307.7,473.5 324.4,476.2 341.1,478.8 357.9,481.3 374.6,483.8 391.3,485.8 408.1,487.9 424.8,489.9 441.5,491.8 458.2,493.8 475.0,495.7 491.7,497.7 508.4,499.6 525.2,501.4 541.9,503.2 558.6,505.0 575.4,506.7 592.1,508.4 608.8,510.1 625.6,511.8 642.3,513.1 659.0,514.4 675.7,515.4 692.5,515.8 709.2,516.2 725.9,517.4 742.7,518.6 759.4,519.7 776.1,520.9 792.9,522.0 809.6,522.9 826.3,523.7 843.0,524.6 859.8,525.4 876.5,526.2 881.5,526.6"/>
<polyline points="40.0,378.3 56.4,432.5 98.8,477.5 123.8,500.5 139.0,513.5 147.5,520.0 163.5,528.0 208.5,546.5 233.5,556.5 248.5,560.5 270.0,566.0"/>
</g>
<g clip-path="url(#pc)" fill="none" stroke-width="1" shape-rendering="crispEdges">
<polyline points="40.3,377.0 41.0,385.0 43.0,394.0 46.0,399.0 48.0,400.5 56.0,401.0 61.5,405.5 137.5,405.5 141.0,410.2 148.0,410.5 150.0,415.2 163.5,415.5 167.0,425.0 177.5,425.5 180.0,435.0 199.0,435.5 208.0,437.0 210.5,440.3 881.5,440.6" stroke="#202020"/><polyline points="40.3,381.0 41.0,389.0 43.0,398.0 46.0,403.0 48.0,404.5 56.0,405.0 61.5,409.5 137.5,409.5 141.0,414.2 148.0,414.5 150.0,419.2 163.5,419.5 167.0,429.0 177.5,429.5 180.0,439.0 199.0,439.5 208.0,441.0 210.5,444.3 881.5,444.6" stroke="#202020"/><polyline points="40.3,378.0 41.0,386.0 43.0,395.0 46.0,400.0 48.0,401.5 56.0,402.0 61.5,406.5 137.5,406.5 141.0,411.2 148.0,411.5 150.0,416.2 163.5,416.5 167.0,426.0 177.5,426.5 180.0,436.0 199.0,436.5 208.0,438.0 210.5,441.3 881.5,441.6" stroke="#00ffcc"/><polyline points="40.3,379.0 41.0,387.0 43.0,396.0 46.0,401.0 48.0,402.5 56.0,403.0 61.5,407.5 137.5,407.5 141.0,412.2 148.0,412.5 150.0,417.2 163.5,417.5 167.0,427.0 177.5,427.5 180.0,437.0 199.0,437.5 208.0,439.0 210.5,442.3 881.5,442.6" stroke="#00ffcc"/><polyline points="40.3,380.0 41.0,388.0 43.0,397.0 46.0,402.0 48.0,403.5 56.0,404.0 61.5,408.5 137.5,408.5 141.0,413.2 148.0,413.5 150.0,418.2 163.5,418.5 167.0,428.0 177.5,428.5 180.0,438.0 199.0,438.5 208.0,440.0 210.5,443.3 881.5,443.6" stroke="#00ffcc"/>
<polyline points="40.0,376.0 101.5,376.0 104.0,370.0 108.0,364.3 635.8,364.3 639.2,359.3 674.2,359.3 676.0,350.0 679.2,336.3 693.3,336.3 698.3,331.0 702.5,322.5 729.2,321.7 732.5,319.3 740.0,318.8 742.5,313.8 752.5,313.8 754.0,301.0 755.8,287.5 881.5,287.5" stroke="#1a1a30"/><polyline points="40.0,380.0 101.5,380.0 104.0,374.0 108.0,368.3 635.8,368.3 639.2,363.3 674.2,363.3 676.0,354.0 679.2,340.3 693.3,340.3 698.3,335.0 702.5,326.5 729.2,325.7 732.5,323.3 740.0,322.8 742.5,317.8 752.5,317.8 754.0,305.0 755.8,291.5 881.5,291.5" stroke="#1a1a30"/><polyline points="40.0,377.0 101.5,377.0 104.0,371.0 108.0,365.3 635.8,365.3 639.2,360.3 674.2,360.3 676.0,351.0 679.2,337.3 693.3,337.3 698.3,332.0 702.5,323.5 729.2,322.7 732.5,320.3 740.0,319.8 742.5,314.8 752.5,314.8 754.0,302.0 755.8,288.5 881.5,288.5" stroke="#ffcc00"/><polyline points="40.0,378.0 101.5,378.0 104.0,372.0 108.0,366.3 635.8,366.3 639.2,361.3 674.2,361.3 676.0,352.0 679.2,338.3 693.3,338.3 698.3,333.0 702.5,324.5 729.2,323.7 732.5,321.3 740.0,320.8 742.5,315.8 752.5,315.8 754.0,303.0 755.8,289.5 881.5,289.5" stroke="#ffcc00"/><polyline points="40.0,379.0 101.5,379.0 104.0,373.0 108.0,367.3 635.8,367.3 639.2,362.3 674.2,362.3 676.0,353.0 679.2,339.3 693.3,339.3 698.3,334.0 702.5,325.5 729.2,324.7 732.5,322.3 740.0,321.8 742.5,316.8 752.5,316.8 754.0,304.0 755.8,290.5 881.5,290.5" stroke="#ffcc00"/>
</g>
<g fill="#585858" shape-rendering="crispEdges"><rect x="39" y="39" width="2" height="523"/><rect x="39" y="39" width="843" height="2"/><rect x="37" y="560" width="845" height="2"/><rect x="881" y="39" width="1" height="523"/></g>
<g stroke="#585858" stroke-width="1" shape-rendering="crispEdges"><line x1="36" y1="559.5" x2="40" y2="559.5"/><line x1="36" y1="512.5" x2="40" y2="512.5"/><line x1="36" y1="465.5" x2="40" y2="465.5"/><line x1="36" y1="418.5" x2="40" y2="418.5"/><line x1="36" y1="370.5" x2="40" y2="370.5"/><line x1="36" y1="323.5" x2="40" y2="323.5"/><line x1="36" y1="276.5" x2="40" y2="276.5"/><line x1="36" y1="229.5" x2="40" y2="229.5"/><line x1="36" y1="181.5" x2="40" y2="181.5"/><line x1="36" y1="134.5" x2="40" y2="134.5"/><line x1="36" y1="87.5" x2="40" y2="87.5"/><line x1="36" y1="40.5" x2="40" y2="40.5"/><line x1="40.5" y1="560" x2="40.5" y2="564"/><line x1="123.5" y1="560" x2="123.5" y2="564"/><line x1="207.5" y1="560" x2="207.5" y2="564"/><line x1="290.5" y1="560" x2="290.5" y2="564"/><line x1="374.5" y1="560" x2="374.5" y2="564"/><line x1="458.5" y1="560" x2="458.5" y2="564"/><line x1="541.5" y1="560" x2="541.5" y2="564"/><line x1="625.5" y1="560" x2="625.5" y2="564"/><line x1="709.5" y1="560" x2="709.5" y2="564"/><line x1="792.5" y1="560" x2="792.5" y2="564"/><line x1="876.5" y1="560" x2="876.5" y2="564"/></g>
<g opacity="0.999">
<text x="461" y="14" font-size="15" textLength="232" lengthAdjust="spacingAndGlyphs" text-anchor="middle" fill="#000" stroke="#000" stroke-width="0.5" xml:space="preserve">Comstock Resources Inc - 2007</text>
<text x="459" y="25.2" font-size="13.5" textLength="350" lengthAdjust="spacingAndGlyphs" text-anchor="middle" fill="#000" stroke="#000" stroke-width="0.35" font-weight="bold" xml:space="preserve">Predicted High to Date (blue) &amp;  Low to Date (red)</text>
<text x="459.5" y="36.5" font-size="12" textLength="306" lengthAdjust="spacingAndGlyphs" text-anchor="middle" fill="#000" stroke="#000" stroke-width="0.3" xml:space="preserve">vol:1.91% iter:2000 step:10 hurst:0.57 drift:0.07/0</text>
<text x="35" y="561.0" font-size="12" textLength="12" lengthAdjust="spacingAndGlyphs" text-anchor="middle" fill="#000" stroke="#000" stroke-width="0.12" transform="rotate(-90 35 561.0)" xml:space="preserve">70</text>
<text x="35" y="513.7" font-size="12" textLength="12" lengthAdjust="spacingAndGlyphs" text-anchor="middle" fill="#000" stroke="#000" stroke-width="0.12" transform="rotate(-90 35 513.7)" xml:space="preserve">90</text>
<text x="35" y="466.4" font-size="12" textLength="18" lengthAdjust="spacingAndGlyphs" text-anchor="middle" fill="#000" stroke="#000" stroke-width="0.12" transform="rotate(-90 35 466.4)" xml:space="preserve">110</text>
<text x="35" y="419.2" font-size="12" textLength="18" lengthAdjust="spacingAndGlyphs" text-anchor="middle" fill="#000" stroke="#000" stroke-width="0.12" transform="rotate(-90 35 419.2)" xml:space="preserve">130</text>
<text x="35" y="371.9" font-size="12" textLength="18" lengthAdjust="spacingAndGlyphs" text-anchor="middle" fill="#000" stroke="#000" stroke-width="0.12" transform="rotate(-90 35 371.9)" xml:space="preserve">150</text>
<text x="35" y="324.6" font-size="12" textLength="18" lengthAdjust="spacingAndGlyphs" text-anchor="middle" fill="#000" stroke="#000" stroke-width="0.12" transform="rotate(-90 35 324.6)" xml:space="preserve">170</text>
<text x="35" y="277.4" font-size="12" textLength="18" lengthAdjust="spacingAndGlyphs" text-anchor="middle" fill="#000" stroke="#000" stroke-width="0.12" transform="rotate(-90 35 277.4)" xml:space="preserve">190</text>
<text x="35" y="230.1" font-size="12" textLength="18" lengthAdjust="spacingAndGlyphs" text-anchor="middle" fill="#000" stroke="#000" stroke-width="0.12" transform="rotate(-90 35 230.1)" xml:space="preserve">210</text>
<text x="35" y="182.8" font-size="12" textLength="18" lengthAdjust="spacingAndGlyphs" text-anchor="middle" fill="#000" stroke="#000" stroke-width="0.12" transform="rotate(-90 35 182.8)" xml:space="preserve">230</text>
<text x="35" y="135.5" font-size="12" textLength="18" lengthAdjust="spacingAndGlyphs" text-anchor="middle" fill="#000" stroke="#000" stroke-width="0.12" transform="rotate(-90 35 135.5)" xml:space="preserve">250</text>
<text x="35" y="88.3" font-size="12" textLength="18" lengthAdjust="spacingAndGlyphs" text-anchor="middle" fill="#000" stroke="#000" stroke-width="0.12" transform="rotate(-90 35 88.3)" xml:space="preserve">270</text>
<text x="35" y="41.0" font-size="12" textLength="18" lengthAdjust="spacingAndGlyphs" text-anchor="middle" fill="#000" stroke="#000" stroke-width="0.12" transform="rotate(-90 35 41.0)" xml:space="preserve">290</text>
<text x="39.1" y="572.2" font-size="11.5" textLength="6" lengthAdjust="spacingAndGlyphs" text-anchor="middle" fill="#000" stroke="#000" stroke-width="0.3" xml:space="preserve">0</text>
<text x="122.8" y="572.2" font-size="11.5" textLength="6" lengthAdjust="spacingAndGlyphs" text-anchor="middle" fill="#000" stroke="#000" stroke-width="0.3" xml:space="preserve">5</text>
<text x="206.4" y="572.2" font-size="11.5" textLength="12" lengthAdjust="spacingAndGlyphs" text-anchor="middle" fill="#000" stroke="#000" stroke-width="0.3" xml:space="preserve">10</text>
<text x="290.1" y="572.2" font-size="11.5" textLength="12" lengthAdjust="spacingAndGlyphs" text-anchor="middle" fill="#000" stroke="#000" stroke-width="0.3" xml:space="preserve">15</text>
<text x="373.70000000000005" y="572.2" font-size="11.5" textLength="12" lengthAdjust="spacingAndGlyphs" text-anchor="middle" fill="#000" stroke="#000" stroke-width="0.3" xml:space="preserve">20</text>
<text x="457.3" y="572.2" font-size="11.5" textLength="12" lengthAdjust="spacingAndGlyphs" text-anchor="middle" fill="#000" stroke="#000" stroke-width="0.3" xml:space="preserve">25</text>
<text x="541.0" y="572.2" font-size="11.5" textLength="12" lengthAdjust="spacingAndGlyphs" text-anchor="middle" fill="#000" stroke="#000" stroke-width="0.3" xml:space="preserve">30</text>
<text x="624.7" y="572.2" font-size="11.5" textLength="12" lengthAdjust="spacingAndGlyphs" text-anchor="middle" fill="#000" stroke="#000" stroke-width="0.3" xml:space="preserve">35</text>
<text x="708.3000000000001" y="572.2" font-size="11.5" textLength="12" lengthAdjust="spacingAndGlyphs" text-anchor="middle" fill="#000" stroke="#000" stroke-width="0.3" xml:space="preserve">40</text>
<text x="792.0" y="572.2" font-size="11.5" textLength="12" lengthAdjust="spacingAndGlyphs" text-anchor="middle" fill="#000" stroke="#000" stroke-width="0.3" xml:space="preserve">45</text>
<text x="875.6" y="572.2" font-size="11.5" textLength="12" lengthAdjust="spacingAndGlyphs" text-anchor="middle" fill="#000" stroke="#000" stroke-width="0.3" xml:space="preserve">50</text>
<text x="460" y="584.5" font-size="13.5" textLength="28" lengthAdjust="spacingAndGlyphs" text-anchor="middle" fill="#000" stroke="#000" stroke-width="0.3" font-weight="bold" xml:space="preserve">Week</text>
<text x="13.4" y="300.5" font-size="13.5" textLength="63" lengthAdjust="spacingAndGlyphs" text-anchor="middle" fill="#000" stroke="#000" stroke-width="0.3" font-weight="bold" transform="rotate(-90 13.4 300.5)" xml:space="preserve">Price ($)</text>
<rect x="19" y="359" width="16" height="40" fill="#e4ffe4" shape-rendering="crispEdges"/>
<text x="31.2" y="379" font-size="11.5" textLength="36" lengthAdjust="spacingAndGlyphs" text-anchor="middle" fill="#002000" stroke="#002000" stroke-width="0.45" font-weight="bold" transform="rotate(-90 31.2 379)" xml:space="preserve">146.87</text>
<text x="918" y="290" font-size="11.5" textLength="42" lengthAdjust="spacingAndGlyphs" text-anchor="middle" fill="#a06400" stroke="#a06400" stroke-width="0.45" font-weight="bold" transform="rotate(-90 918 290)" xml:space="preserve">184.274</text>
<text x="918" y="443" font-size="11.5" textLength="42" lengthAdjust="spacingAndGlyphs" text-anchor="middle" fill="#009858" stroke="#009858" stroke-width="0.45" font-weight="bold" transform="rotate(-90 918 443)" xml:space="preserve">119.586</text>
<text x="883.5" y="114.1" font-size="9.3" textLength="25" lengthAdjust="spacingAndGlyphs" text-anchor="start" fill="#000" stroke="#000" stroke-width="0.55" font-weight="bold" xml:space="preserve">258.8</text>
<text x="883.5" y="184.3" font-size="9.3" textLength="25" lengthAdjust="spacingAndGlyphs" text-anchor="start" fill="#000" stroke="#000" stroke-width="0.55" font-weight="bold" xml:space="preserve">229.1</text>
<text x="883.5" y="222.6" font-size="9.3" textLength="25" lengthAdjust="spacingAndGlyphs" text-anchor="start" fill="#000" stroke="#000" stroke-width="0.55" font-weight="bold" xml:space="preserve">212.9</text>
<text x="883.5" y="256.0" font-size="9.3" textLength="25" lengthAdjust="spacingAndGlyphs" text-anchor="start" fill="#000" stroke="#000" stroke-width="0.55" font-weight="bold" xml:space="preserve">198.8</text>
<text x="883.5" y="284.6" font-size="9.3" textLength="25" lengthAdjust="spacingAndGlyphs" text-anchor="start" fill="#000" stroke="#000" stroke-width="0.55" font-weight="bold" xml:space="preserve">186.7</text>
<text x="883.5" y="306.8" font-size="9.3" textLength="25" lengthAdjust="spacingAndGlyphs" text-anchor="start" fill="#000" stroke="#000" stroke-width="0.55" font-weight="bold" xml:space="preserve">177.3</text>
<text x="883.5" y="329.0" font-size="9.3" textLength="25" lengthAdjust="spacingAndGlyphs" text-anchor="start" fill="#000" stroke="#000" stroke-width="0.55" font-weight="bold" xml:space="preserve">167.9</text>
<text x="883.5" y="347.0" font-size="9.3" textLength="25" lengthAdjust="spacingAndGlyphs" text-anchor="start" fill="#000" stroke="#000" stroke-width="0.55" font-weight="bold" xml:space="preserve">160.3</text>
<text x="883.5" y="363.7" font-size="9.3" textLength="25" lengthAdjust="spacingAndGlyphs" text-anchor="start" fill="#000" stroke="#000" stroke-width="0.55" font-weight="bold" xml:space="preserve">153.2</text>
<text x="883.5" y="391.2" font-size="9.3" textLength="25" lengthAdjust="spacingAndGlyphs" text-anchor="start" fill="#000" stroke="#000" stroke-width="0.55" font-weight="bold" xml:space="preserve">141.6</text>
<text x="883.5" y="404.9" font-size="9.3" textLength="25" lengthAdjust="spacingAndGlyphs" text-anchor="start" fill="#000" stroke="#000" stroke-width="0.55" font-weight="bold" xml:space="preserve">135.8</text>
<text x="883.5" y="418.6" font-size="9.3" textLength="15" lengthAdjust="spacingAndGlyphs" text-anchor="start" fill="#000" stroke="#000" stroke-width="0.55" font-weight="bold" xml:space="preserve">130</text>
<text x="883.5" y="434.2" font-size="9.3" textLength="25" lengthAdjust="spacingAndGlyphs" text-anchor="start" fill="#000" stroke="#000" stroke-width="0.55" font-weight="bold" xml:space="preserve">123.4</text>
<text x="883.5" y="449.5" font-size="9.3" textLength="25" lengthAdjust="spacingAndGlyphs" text-anchor="start" fill="#000" stroke="#000" stroke-width="0.55" font-weight="bold" xml:space="preserve">116.9</text>
<text x="883.5" y="464.2" font-size="9.3" textLength="25" lengthAdjust="spacingAndGlyphs" text-anchor="start" fill="#000" stroke="#000" stroke-width="0.55" font-weight="bold" xml:space="preserve">110.7</text>
<text x="883.5" y="480.5" font-size="9.3" textLength="25" lengthAdjust="spacingAndGlyphs" text-anchor="start" fill="#000" stroke="#000" stroke-width="0.55" font-weight="bold" xml:space="preserve">103.8</text>
<text x="883.5" y="502.2" font-size="9.3" textLength="25" lengthAdjust="spacingAndGlyphs" text-anchor="start" fill="#000" stroke="#000" stroke-width="0.55" font-weight="bold" xml:space="preserve">94.60</text>
<text x="883.5" y="526.7" font-size="9.3" textLength="25" lengthAdjust="spacingAndGlyphs" text-anchor="start" fill="#000" stroke="#000" stroke-width="0.55" font-weight="bold" xml:space="preserve">84.26</text>
<text x="42" y="546.2" font-size="16.5" font-weight="bold" fill="#000070" style="font-family:'Liberation Sans',sans-serif">©</text>
<text x="57" y="545.3" font-size="13.5" textLength="105" lengthAdjust="spacingAndGlyphs" text-anchor="start" fill="#000070" stroke="#000070" stroke-width="0.3" font-weight="bold" xml:space="preserve">www.textbiz.org</text>
<text x="43" y="557.3" font-size="13.5" textLength="217" lengthAdjust="spacingAndGlyphs" text-anchor="start" fill="#000070" stroke="#000070" stroke-width="0.3" font-weight="bold" xml:space="preserve">The Research Foundation of SUNY</text>
<text x="282.5" y="597.5" font-size="12" textLength="18" lengthAdjust="spacingAndGlyphs" text-anchor="start" fill="#000" stroke="#000" stroke-width="0.3" xml:space="preserve">LTD</text>
<rect x="302" y="592" width="13" height="5" fill="#202020" shape-rendering="crispEdges"/><rect x="302" y="593" width="13" height="3" fill="#00ffcc" shape-rendering="crispEdges"/>
<text x="318.5" y="597.5" font-size="12" textLength="18" lengthAdjust="spacingAndGlyphs" text-anchor="start" fill="#000" stroke="#000" stroke-width="0.3" xml:space="preserve">HTD</text>
<rect x="338" y="593" width="13" height="5" fill="#1a1a30" shape-rendering="crispEdges"/><rect x="338" y="594" width="13" height="3" fill="#ffcc00" shape-rendering="crispEdges"/>
<text x="355" y="597.5" font-size="12" textLength="48" lengthAdjust="spacingAndGlyphs" text-anchor="start" fill="#000" stroke="#000" stroke-width="0.3" xml:space="preserve">prob:0%&lt;</text>
<rect x="404" y="587" width="16" height="6" fill="#fff4f4" shape-rendering="crispEdges"/><rect x="404" y="593" width="16" height="6" fill="#f4f4ff" shape-rendering="crispEdges"/>
<text x="421" y="597.5" font-size="12" textLength="30" lengthAdjust="spacingAndGlyphs" text-anchor="start" fill="#000" stroke="#000" stroke-width="0.3" xml:space="preserve">&lt;10%&lt;</text>
<rect x="452" y="587" width="16" height="6" fill="#ffdcdc" shape-rendering="crispEdges"/><rect x="452" y="593" width="16" height="6" fill="#dcdcff" shape-rendering="crispEdges"/>
<text x="469" y="597.5" font-size="12" textLength="30" lengthAdjust="spacingAndGlyphs" text-anchor="start" fill="#000" stroke="#000" stroke-width="0.3" xml:space="preserve">&lt;20%&lt;</text>
<rect x="500" y="587" width="16" height="6" fill="#ffbebe" shape-rendering="crispEdges"/><rect x="500" y="593" width="16" height="6" fill="#bebeff" shape-rendering="crispEdges"/>
<text x="517" y="597.5" font-size="12" textLength="30" lengthAdjust="spacingAndGlyphs" text-anchor="start" fill="#000" stroke="#000" stroke-width="0.3" xml:space="preserve">&lt;30%&lt;</text>
<rect x="548" y="587" width="16" height="6" fill="#ffa0a0" shape-rendering="crispEdges"/><rect x="548" y="593" width="16" height="6" fill="#a0a0ff" shape-rendering="crispEdges"/>
<text x="565" y="597.5" font-size="12" textLength="30" lengthAdjust="spacingAndGlyphs" text-anchor="start" fill="#000" stroke="#000" stroke-width="0.3" xml:space="preserve">&lt;40%&lt;</text>
<rect x="596" y="587" width="16" height="6" fill="#ff8080" shape-rendering="crispEdges"/><rect x="596" y="593" width="16" height="6" fill="#8080ff" shape-rendering="crispEdges"/>
<text x="613" y="597.5" font-size="12" textLength="24" lengthAdjust="spacingAndGlyphs" text-anchor="start" fill="#000" stroke="#000" stroke-width="0.3" xml:space="preserve">&lt;50%</text>
</g>
</svg></body></html>
